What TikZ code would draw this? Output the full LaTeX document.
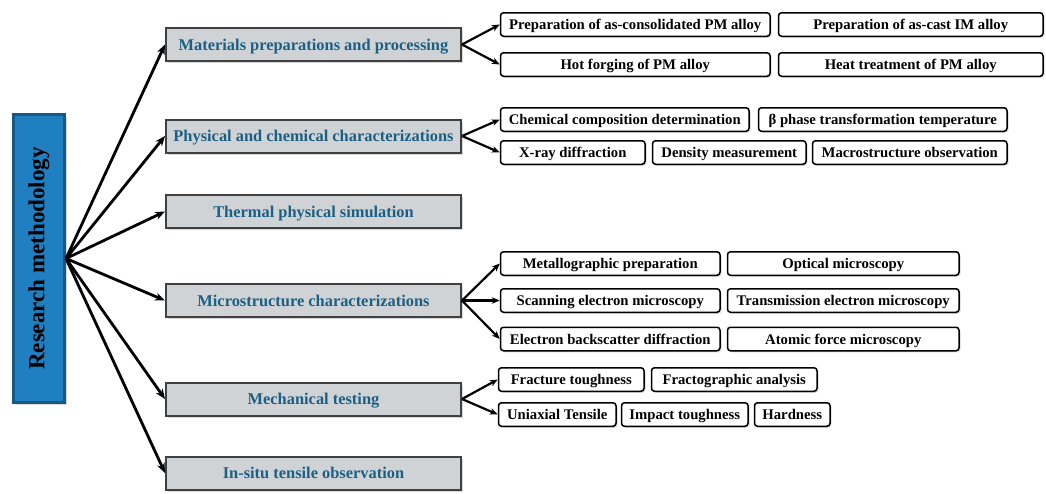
\documentclass[tikz,border=0pt]{standalone}
\usepackage{fontspec}
\setmainfont{Liberation Serif}
\usetikzlibrary{positioning,arrows.meta,shadows}

\definecolor{rootblue}{RGB}{31,127,192}
\definecolor{rootedge}{RGB}{24,88,132}
\definecolor{catgray}{RGB}{208,211,213}
\definecolor{catedge}{RGB}{64,64,64}
\definecolor{cattext}{RGB}{28,95,132}

\begin{document}
\begin{tikzpicture}[x=1pt, y=-1pt,
	root/.style={draw=rootedge, line width=3pt, fill=rootblue, rotate=90, inner sep=0pt,
		minimum width=288pt, minimum height=51pt, font=\bfseries\fontsize{23}{26}\selectfont,
		drop shadow={shadow xshift=2pt, shadow yshift=-2pt, opacity=0.3}},
	topic/.style={draw=catedge, line width=2pt, fill=catgray, inner sep=0pt, anchor=west,
		minimum width=295pt, minimum height=33pt, text height=13pt, text depth=2pt,
		text=cattext, font=\bfseries\fontsize{16.4}{18}\selectfont,
		drop shadow={shadow xshift=2pt, shadow yshift=-2pt, opacity=0.3}},
	leaf/.style={draw=black, line width=1.5pt, fill=white, rounded corners=3pt, inner sep=0pt, anchor=west,
		minimum height=23.5pt, text height=12pt, text depth=2pt, font=\bfseries\fontsize{14.7}{16}\selectfont,
		drop shadow={shadow xshift=1.5pt, shadow yshift=-1.5pt, opacity=0.3}},
	main/.style={-{Stealth[length=10pt, width=8pt]}, line width=2.8pt},
	sub/.style={-{Stealth[length=8pt, width=6.5pt]}, line width=2.2pt}]

	\useasboundingbox (0,0) rectangle (1046,493);

	% rotated, so root.south is its right side
	\node[root] (root) at (39,258.5) {Research methodology};

	\node[topic] (mat) at (165,44.5) {Materials preparations and processing};
	\node[topic] (phy) at (165,136) {Physical and chemical characterizations};
	\node[topic] (thr) at (165,211.5) {Thermal physical simulation};
	\node[topic] (mic) at (165,300.5) {Microstructure characterizations};
	\node[topic] (mec) at (165,399) {Mechanical testing};
	\node[topic] (ins) at (165,473) {In-situ tensile observation};

	\node[leaf, minimum width=269.5pt] (mat1) at (499.75,24.5) {Preparation of as-consolidated PM alloy};
	\node[leaf, minimum width=264.5pt] (mat2) at (777.75,24.5) {Preparation of as-cast IM alloy};
	\node[leaf, minimum width=269.5pt] (mat3) at (499.75,64.5) {Hot forging of PM alloy};
	\node[leaf, minimum width=264.5pt] (mat4) at (777.75,64.5) {Heat treatment of PM alloy};

	\node[leaf, minimum width=248.5pt] (phy1) at (499.75,119.5) {Chemical composition determination};
	\node[leaf, minimum width=248.5pt] (phy2) at (757.75,119.5) {β phase transformation temperature};
	\node[leaf, minimum width=144.5pt] (phy3) at (499.75,152.5) {X-ray diffraction};
	\node[leaf, minimum width=153.5pt] (phy4) at (651.75,152.5) {Density measurement};
	\node[leaf, minimum width=194.5pt] (phy5) at (811.75,152.5) {Macrostructure observation};

	\node[leaf, minimum width=219.5pt] (mic1) at (499.75,263.5) {Metallographic preparation};
	\node[leaf, minimum width=231.5pt] (mic2) at (726.75,263.5) {Optical microscopy};
	\node[leaf, minimum width=219.5pt] (mic3) at (499.75,300.5) {Scanning electron microscopy};
	\node[leaf, minimum width=231.5pt] (mic4) at (726.75,300.5) {Transmission electron microscopy};
	\node[leaf, minimum width=219.5pt] (mic5) at (499.75,339) {Electron backscatter diffraction};
	\node[leaf, minimum width=231.5pt] (mic6) at (726.75,339) {Atomic force microscopy};

	\node[leaf, minimum width=145.5pt] (mec1) at (497.75,379.5) {Fracture toughness};
	\node[leaf, minimum width=165.5pt] (mec2) at (650.75,379.5) {Fractographic analysis};
	\node[leaf, minimum width=117.5pt] (mec3) at (497.75,414.5) {Uniaxial Tensile};
	\node[leaf, minimum width=126.5pt] (mec4) at (620.75,414.5) {Impact toughness};
	\node[leaf, minimum width=75.5pt] (mec5) at (753.75,414.5) {Hardness};

	\path[main] (root.south) edge (mat.west);
	\path[main] (root.south) edge (phy.west);
	\path[main] (root.south) edge (thr.west);
	\path[main] (root.south) edge (mic.west);
	\path[main] (root.south) edge (mec.west);
	\path[main] (root.south) edge (ins.west);

	\path[sub] (mat.east) edge (mat1.west);
	\path[sub] (mat.east) edge (mat3.west);

	\path[sub] (phy.east) edge (phy1.west);
	\path[sub] (phy.east) edge (phy3.west);

	\path[sub] (mic.east) edge (mic1.west);
	\path[sub] (mic.east) edge (mic3.west);
	\path[sub] (mic.east) edge (mic5.west);

	\path[sub] (mec.east) edge (mec1.west);
	\path[sub] (mec.east) edge (mec3.west);

\end{tikzpicture}
\end{document}
